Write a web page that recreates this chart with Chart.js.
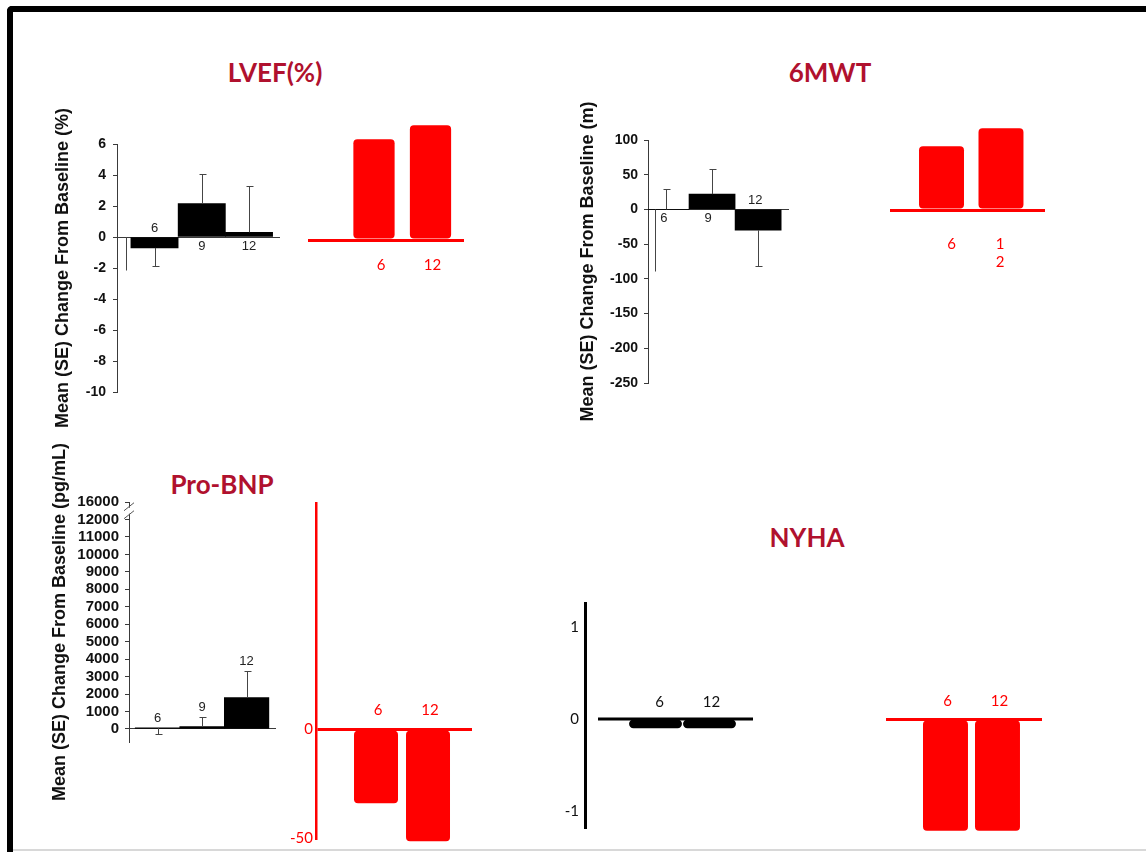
<!DOCTYPE html>
<html><head><meta charset="utf-8">
<script src="https://cdn.jsdelivr.net/npm/chart.js@4.4.1/dist/chart.umd.min.js"></script>
<style>
html,body{margin:0;padding:0;background:#fff;width:1146px;height:852px;overflow:hidden;position:relative;font-family:"Liberation Sans",Arial,sans-serif}
#frame{position:absolute;left:7px;top:6px;width:1200px;height:900px;border-top:6px solid #000;border-left:6px solid #000;border-top-left-radius:5px;box-sizing:border-box}
#bottomline{position:absolute;left:13px;top:849px;width:1140px;height:2px;background:#d8d8d8}
.ttl{position:absolute;transform:translate(-50%,-50%);font-family:Lato,"Open Sans",sans-serif;font-weight:700;font-size:26px;color:#B0112E;white-space:nowrap}
canvas{position:absolute}
</style></head><body>
<div id="frame"></div><div id="bottomline"></div>
<div class="ttl" style="left:275px;top:72px">LVEF(%)</div>
<div class="ttl" style="left:830px;top:72px">6MWT</div>
<div class="ttl" style="left:222px;top:484px">Pro-BNP</div>
<div class="ttl" style="left:807px;top:537px">NYHA</div>
<script>
// ---------------- DATA ----------------
const lvefMonths = ['6', '9', '12'];
const lvefMean = [-0.7, 2.15, 0.3];
const lvefErrEnd = [-1.9, 4.05, 3.3];
const lvefBaselineErrEnd = -2.1;
const lvefTicks = [6, 4, 2, 0, -2, -4, -6, -8, -10];
const lvefRedMonths = ['6', '12'];
const lvefRedMean = [6.5, 7.4];

const mwtMonths = ['6', '9', '12'];
const mwtMean = [0, 22, -30];
const mwtErrEnd = [29, 58, -82];
const mwtBaselineErrEnd = -88;
const mwtTicks = [100, 50, 0, -50, -100, -150, -200, -250];
const mwtRedMonths = ['6', ['1', '2']];
const mwtRedMean = [92, 118];

const bnpMonths = ['6', '9', '12'];
const bnpMean = [60, 130, 1800];
const bnpErrEnd = [-290, 700, 3330];
const bnpTicks = [0, 1000, 2000, 3000, 4000, 5000, 6000, 7000, 8000, 9000, 10000, 11000, 12000, 16000];
const bnpRedMonths = ['6', '12'];
const bnpRedMean = [-34, -51.5];
const bnpRedTicks = [0, -50];

const nyhaMonths = ['6', '12'];
const nyhaMean = [-0.1, -0.1];
const nyhaTicks = [1, 0, -1];
const nyhaRedMonths = ['6', '12'];
const nyhaRedMean = [-1.1, -1.1];

const yTitleLVEF = 'Mean (SE) Change From Baseline (%)';
const yTitleMWT = 'Mean (SE) Change From Baseline (m)';
const yTitleBNP = 'Mean (SE) Change From Baseline (pg/mL)';

// ---------------- HELPERS ----------------
const RED = '#FF0000';
const AXC = '#3a3a3a';
const pts = arr => arr.map((v, i) => ({ x: i + 1, y: v }));

const annot = {
  id: 'annot',
  beforeDatasetsDraw(chart, args, o) {
    if (!o.zeroLine) return;
    const ctx = chart.ctx, xs = chart.scales.x, ys = chart.scales.y;
    const y = ys.getPixelForValue(0);
    ctx.save();
    ctx.strokeStyle = o.zeroLine.color; ctx.lineWidth = o.zeroLine.width;
    ctx.beginPath(); ctx.moveTo(xs.getPixelForValue(o.zeroLine.from), y); ctx.lineTo(chart.chartArea.right, y); ctx.stroke();
    ctx.restore();
  },
  afterDatasetsDraw(chart, args, o) {
    const ctx = chart.ctx, xs = chart.scales.x, ys = chart.scales.y;
    ctx.save();
    if (o.err) {
      ctx.strokeStyle = '#454545'; ctx.lineWidth = 1;
      o.err.forEach(e => {
        const x = Math.round(xs.getPixelForValue(e.x)) + 0.5;
        const y0 = ys.getPixelForValue(e.from), y1 = Math.round(ys.getPixelForValue(e.to)) + 0.5;
        ctx.beginPath(); ctx.moveTo(x, y0); ctx.lineTo(x, y1);
        if (e.cap) { ctx.moveTo(x - 3, y1); ctx.lineTo(x + 4, y1); }
        ctx.stroke();
      });
    }
    if (o.breakAt !== undefined) {
      const x = chart.chartArea.left, yb = ys.getPixelForValue(o.breakAt);
      ctx.fillStyle = '#fff'; ctx.fillRect(x - 2, yb - 3, 4, 6);
      ctx.strokeStyle = '#555'; ctx.lineWidth = 1;
      [-4, 4].forEach(d => { ctx.beginPath(); ctx.moveTo(x - 5, yb + d + 4); ctx.lineTo(x + 5, yb + d - 4); ctx.stroke(); });
    }
    if (o.labels) {
      const L = o.labels, y0 = ys.getPixelForValue(0);
      ctx.fillStyle = L.color; ctx.font = L.font; ctx.textAlign = 'center'; ctx.textBaseline = 'middle';
      L.text.forEach((t, i) => {
        const v = L.values[i];
        const x = xs.getPixelForValue(i + 1) + (L.dx ? L.dx[i] : 0);
        let y;
        if (L.mode === 'sign') y = y0 + (v < 0 ? -L.offset : L.offset);
        else if (L.mode === 'top') {
          const top = Math.min(ys.getPixelForValue(v), L.errEnd && L.errEnd[i] > v ? ys.getPixelForValue(L.errEnd[i]) : 1e9);
          y = top - L.offset;
        } else y = y0 + L.offset;
        const lines = Array.isArray(t) ? t : [t];
        lines.forEach((s, k) => ctx.fillText(s, x, y + k * (L.lineHeight || 18)));
      });
    }
    ctx.restore();
  }
};

function make(area, pad, yW, config) {
  const c = document.createElement('canvas');
  const w = area.R - area.L + pad.l + pad.r, h = area.B - area.T + pad.t + pad.b;
  c.width = w; c.height = h;
  c.style.left = (area.L - pad.l) + 'px'; c.style.top = (area.T - pad.t) + 'px';
  c.style.width = w + 'px'; c.style.height = h + 'px';
  document.body.appendChild(c);
  const o = config.options;
  o.layout = { padding: { left: pad.l - yW, top: pad.t, right: pad.r, bottom: pad.b } };
  o.responsive = false; o.maintainAspectRatio = false; o.animation = false; o.devicePixelRatio = 1;
  o.plugins = Object.assign({ legend: { display: false }, tooltip: { enabled: false } }, o.plugins || {});
  o.scales.y.afterFit = s => { s.width = yW; s.paddingTop = 0; s.paddingBottom = 0; };
  config.plugins = [annot];
  return new Chart(c, config);
}

function xScale(min, max, n) {
  return { type: 'linear', display: false, offset: false, min, max,
    afterBuildTicks: a => { a.ticks = Array.from({ length: n }, (_, i) => ({ value: i + 1 })); } };
}

const tickFontBold = { family: '"Liberation Sans", Arial, sans-serif', size: 14, weight: 'bold' };
const tickFontBold15 = { family: '"Liberation Sans", Arial, sans-serif', size: 15, weight: 'bold' };
const titleFont = { family: '"Liberation Sans", Arial, sans-serif', size: 18, weight: 'bold' };
const barLblFont = '13px "Liberation Sans", Arial, sans-serif';
const redLblFont = '15px Lato, "Open Sans", sans-serif';

function blackY(min, max, ticks, title, labels, pad, font) {
  return {
    type: 'linear', min, max,
    afterBuildTicks: a => { a.ticks = ticks.map(v => ({ value: v })); },
    ticks: { autoSkip: false, font: font || tickFontBold, color: '#111', padding: pad, callback: labels || (v => String(v)) },
    grid: { color: c => (c.tick && c.tick.value === 0) ? AXC : 'rgba(0,0,0,0)', lineWidth: 1, drawTicks: true, tickLength: 4, tickColor: AXC },
    border: { display: true, color: AXC, width: 1 },
    title: { display: true, text: title, font: titleFont, color: '#111', padding: 0 }
  };
}
function redHiddenY(min, max) {
  return {
    type: 'linear', min, max,
    afterBuildTicks: a => { a.ticks = [{ value: 0 }]; },
    ticks: { display: false },
    grid: { color: RED, lineWidth: 3, drawTicks: false },
    border: { display: false }
  };
}
function blackBars(vals) {
  return { type: 'bar', data: { datasets: [{ data: pts(vals), backgroundColor: '#000', borderWidth: 0, barPercentage: 1, categoryPercentage: 1 }] } };
}
function redBars(vals, bp, clip) {
  const ds = { data: pts(vals), backgroundColor: RED, borderWidth: 0, borderRadius: 4, borderSkipped: false, barPercentage: bp, categoryPercentage: 1 };
  if (clip === false) ds.clip = false;
  return { type: 'bar', data: { datasets: [ds] } };
}
function errList(mean, ends, baseX, baseEnd) {
  const l = mean.map((m, i) => ({ x: i + 1, from: m, to: ends[i], cap: true }));
  if (baseX !== undefined) l.push({ x: baseX, from: 0, to: baseEnd, cap: false });
  return l;
}

// ---------------- LVEF (black) ----------------
(() => {
  const cfg = blackBars(lvefMean);
  cfg.options = {
    scales: { x: xScale(0.206, 3.656, 3), y: blackY(-10, 6, lvefTicks, yTitleLVEF, null, 7) },
    plugins: { annot: { err: errList(lvefMean, lvefErrEnd, 0.397, lvefBaselineErrEnd),
      labels: { text: lvefMonths, values: lvefMean, mode: 'sign', offset: 9, color: '#222', font: barLblFont } } }
  };
  make({ L: 117, T: 144, R: 280, B: 392 }, { l: 70, t: 60, r: 10, b: 60 }, 65, cfg);
})();

// ---------------- LVEF (red) ----------------
(() => {
  const cfg = redBars(lvefRedMean, 0.73);
  cfg.options = {
    scales: { x: xScale(-0.168, 2.593, 2), y: redHiddenY(0, 8) },
    plugins: { annot: { labels: { text: lvefRedMonths, values: lvefRedMean, mode: 'fixed', offset: 25, color: RED, font: redLblFont, dx: [7, 2] } } }
  };
  make({ L: 308, T: 116, R: 464, B: 240 }, { l: 5, t: 5, r: 5, b: 45 }, 0, cfg);
})();

// ---------------- 6MWT (black) ----------------
(() => {
  const cfg = blackBars(mwtMean);
  cfg.options = {
    scales: { x: xScale(0.61, 3.67, 3), y: blackY(-250, 100, mwtTicks, yTitleMWT, null, 6) },
    plugins: { annot: { err: errList(mwtMean, mwtErrEnd, 0.76, mwtBaselineErrEnd),
      labels: { text: mwtMonths, values: mwtMean, mode: 'sign', offset: 9, color: '#222', font: barLblFont, dx: [-2, -4, -3] } } }
  };
  make({ L: 648, T: 140, R: 789, B: 383 }, { l: 76, t: 60, r: 10, b: 60 }, 71, cfg);
})();

// ---------------- 6MWT (red) ----------------
(() => {
  const cfg = redBars(mwtRedMean, 0.756);
  cfg.options = {
    scales: { x: xScale(0.134, 2.74, 2), y: redHiddenY(0, 150) },
    plugins: { annot: { labels: { text: mwtRedMonths, values: mwtRedMean, mode: 'fixed', offset: 34, lineHeight: 18, color: RED, font: redLblFont, dx: [10, -1] } } }
  };
  make({ L: 890, T: 106, R: 1045, B: 210 }, { l: 5, t: 5, r: 5, b: 70 }, 0, cfg);
})();

// ---------------- Pro-BNP (black) ----------------
(() => {
  const brk = v => (v > 12000 ? 13000 : v);   // axis break above 12000
  const cfg = blackBars(bnpMean);
  const y = blackY(-750, 13000, bnpTicks.map(brk), yTitleBNP, (v, i) => String(bnpTicks[i]), 6, tickFontBold15);
  cfg.options = {
    scales: { x: xScale(0.36, 3.66, 3), y },
    plugins: { annot: { err: errList(bnpMean, bnpErrEnd), breakAt: 12500,
      labels: { text: bnpMonths, values: bnpMean, errEnd: bnpErrEnd, mode: 'top', offset: 9, color: '#222', font: barLblFont } } }
  };
  make({ L: 129, T: 502, R: 276, B: 742 }, { l: 85, t: 75, r: 10, b: 75 }, 80, cfg);
})();

// ---------------- Pro-BNP (red) ----------------
(() => {
  const cfg = redBars(bnpRedMean, 0.846, false);
  cfg.options = {
    scales: { x: xScale(-0.154, 2.846, 2), y: {
      type: 'linear', min: -50, max: 104,
      afterBuildTicks: a => { a.ticks = bnpRedTicks.map(v => ({ value: v })); },
      ticks: { autoSkip: false, font: { family: 'Lato, "Open Sans", sans-serif', size: 15 }, color: RED, padding: 3 },
      grid: { color: c => (c.tick && c.tick.value === 0) ? RED : 'rgba(0,0,0,0)', lineWidth: 3, drawTicks: false },
      border: { display: true, color: RED, width: 2.5 } } },
    plugins: { annot: { labels: { text: bnpRedMonths, values: bnpRedMean, mode: 'fixed', offset: -19, color: RED, font: redLblFont, dx: [2, 2] } } }
  };
  make({ L: 316, T: 503, R: 472, B: 838 }, { l: 35, t: 5, r: 5, b: 12 }, 30, cfg);
})();

// ---------------- NYHA (black) ----------------
(() => {
  const cfg = { type: 'bar', data: { datasets: [{ data: pts(nyhaMean), backgroundColor: '#000', borderWidth: 0, borderRadius: 5, borderSkipped: false, barPercentage: 0.98, categoryPercentage: 1 }] } };
  cfg.options = {
    scales: { x: xScale(-0.306, 2.806, 2), y: {
      type: 'linear', min: -1.185, max: 1.26,
      afterBuildTicks: a => { a.ticks = nyhaTicks.map(v => ({ value: v })); },
      ticks: { autoSkip: false, font: { family: 'Lato, "Open Sans", sans-serif', size: 15 }, color: '#111', padding: 6 },
      grid: { color: 'rgba(0,0,0,0)', drawTicks: false },
      border: { display: true, color: '#000', width: 3 } } },
    plugins: { annot: { zeroLine: { from: -0.065, color: '#000', width: 3 },
      labels: { text: nyhaMonths, values: nyhaMean, mode: 'fixed', offset: -17, color: '#111', font: redLblFont, dx: [4, 2] } } }
  };
  make({ L: 585, T: 603, R: 753, B: 828 }, { l: 35, t: 5, r: 5, b: 8 }, 30, cfg);
})();

// ---------------- NYHA (red) ----------------
(() => {
  const cfg = redBars(nyhaRedMean, 0.865);
  cfg.options = {
    scales: { x: xScale(-0.144, 2.856, 2), y: redHiddenY(-1.2, 0) },
    plugins: { annot: { labels: { text: nyhaRedMonths, values: nyhaRedMean, mode: 'fixed', offset: -18, color: RED, font: redLblFont, dx: [2, 2] } } }
  };
  make({ L: 886, T: 719, R: 1042, B: 841 }, { l: 5, t: 30, r: 5, b: 5 }, 0, cfg);
})();
</script>
</body></html>
